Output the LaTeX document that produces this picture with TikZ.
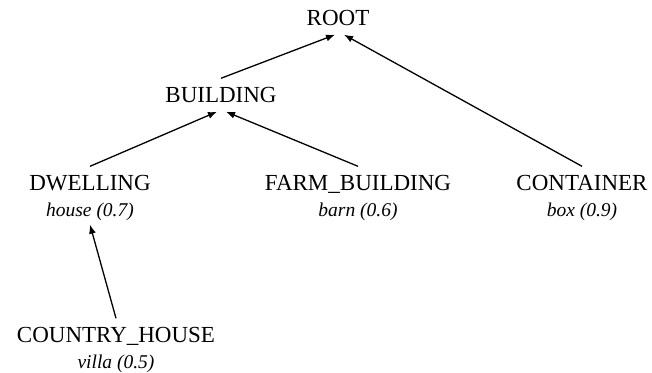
\documentclass[tikz,border=0pt]{standalone}
\usepackage{fontspec}
\setmainfont{Liberation Serif}
\usetikzlibrary{arrows.meta}

% sense line under a concept name
\newcommand\senselabel[1]{{\fontsize{19.5}{26}\selectfont\itshape #1}}

\begin{document}
\begin{tikzpicture}[x=1pt, y=-1pt, line width=1.3pt,
  concept/.style={inner xsep=2pt, inner ysep=9pt, outer sep=0pt, align=center,
                  font=\fontsize{23}{26}\selectfont},
  isa/.style={-{Latex[length=9pt,width=7pt]}}]

  %% ════ concepts ════
  \node[concept] (root)      at (338,18)  {ROOT};
  \node[concept] (building)  at (221,95)  {BUILDING};
  \node[concept] (dwelling)  at (90,198)  {DWELLING\\\senselabel{house (0.7)}};
  \node[concept] (farm)      at (358,198) {FARM\_BUILDING\\\senselabel{barn (0.6)}};
  \node[concept] (container) at (582,198) {CONTAINER\\\senselabel{box (0.9)}};
  \node[concept] (country)   at (116,350) {COUNTRY\_HOUSE\\\senselabel{villa (0.5)}};

  %% ════ is-a links (child -> parent) ════
  \draw[isa] (building.north)  -- ([xshift=-3pt]root.south);
  \draw[isa] (container.north) -- ([xshift=6pt]root.south);
  \draw[isa] (dwelling.north)  -- ([xshift=-4pt]building.south);
  \draw[isa] (farm.north)      -- ([xshift=5pt]building.south);
  \draw[isa] (country.north)   -- ([yshift=5pt]dwelling.south);

  % fix the canvas to the 652x372 frame
  \pgfresetboundingbox
  \path[use as bounding box] (0,0) rectangle (652,372);
\end{tikzpicture}
\end{document}
